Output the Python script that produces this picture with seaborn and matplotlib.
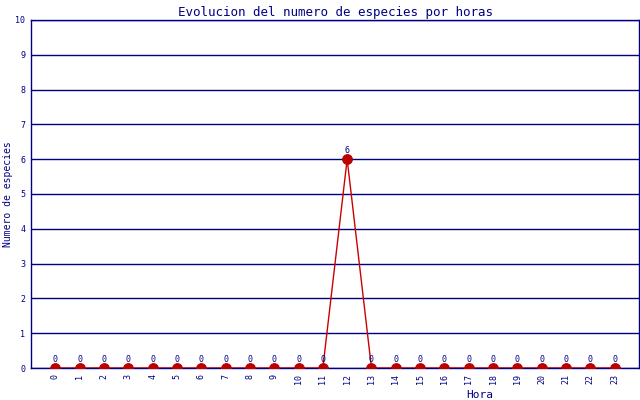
import matplotlib
matplotlib.use('Agg')
import matplotlib.pyplot as plt
import seaborn as sns
import pandas as pd

# Data
horas = list(range(24))
especies = [0, 0, 0, 0, 0, 0, 0, 0, 0, 0, 0, 0, 6, 0, 0, 0, 0, 0, 0, 0, 0, 0, 0, 0]

df = pd.DataFrame({'Hora': horas, 'Especies': especies})

sns.set_style('white')
plt.rcParams['font.family'] = ['DejaVu Sans Mono']

navy = '#000080'
red = '#cc0000'

fig = plt.figure(figsize=(6.4, 4.0), dpi=100)
ax = fig.add_axes([31 / 640, 32 / 400, 608 / 640, 348 / 400])

for y in range(0, 11):
    ax.axhline(y, color=navy, linewidth=1, zorder=1)

sns.lineplot(x='Hora', y='Especies', data=df, color=red, linewidth=1,
             marker='o', markersize=7, markerfacecolor='#bb0000',
             markeredgecolor='#bb0000', ax=ax, zorder=3)

for h, v in zip(horas, especies):
    ax.text(h, v + 0.12, str(v), color=navy, fontsize=6, ha='center', va='bottom')

ax.set_xlim(-1, 24)
ax.set_ylim(0, 10)
ax.set_xticks(horas)
ax.set_xticklabels([str(h) for h in horas], rotation=90, fontsize=6, color=navy)
ax.set_yticks(range(11))
ax.set_yticklabels([str(y) for y in range(11)], fontsize=6, color=navy)
ax.tick_params(axis='both', length=0, pad=4)

for s in ax.spines.values():
    s.set_color(navy)
    s.set_linewidth(1)

ax.set_xlabel('Hora', fontsize=8, color=navy)
ax.xaxis.set_label_coords((480 - 31) / 608, -0.063)
ax.set_ylabel('Numero de especies', fontsize=7, color=navy)
ax.yaxis.set_label_coords(-0.03, 0.5)
ax.set_title('Evolucion del numero de especies por horas', fontsize=9, color=navy, pad=3)

fig.savefig('out.png', dpi=100)
